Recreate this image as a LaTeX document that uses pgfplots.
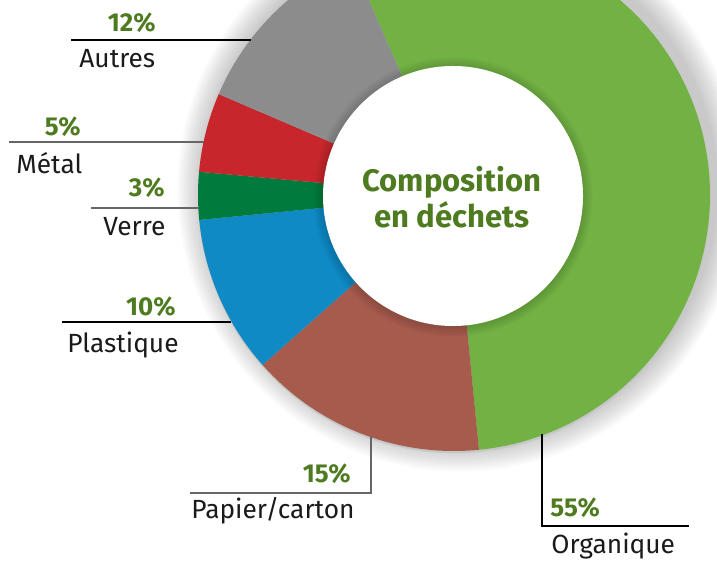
\documentclass[border=0pt]{standalone}
\usepackage{pgfplots}
\usepackage{pgfplotstable}
\pgfplotsset{compat=1.18}
\usepackage{fontspec}
\setmainfont{Fira Sans}
\definecolor{cOrg}{HTML}{72B244}
\definecolor{cPap}{HTML}{A65B4D}
\definecolor{cPla}{HTML}{0F8AC5}
\definecolor{cVer}{HTML}{007A3D}
\definecolor{cMet}{HTML}{C6262C}
\definecolor{cAut}{HTML}{8C8C8C}
\definecolor{txtgreen}{HTML}{4E7B20}
\definecolor{lab}{HTML}{1A1A1A}

% share of each type of waste (%), clockwise from the top
\pgfplotstableread[col sep=comma]{
value,color
55,cOrg
15,cPap
10,cPla
3,cVer
5,cMet
12,cAut
}\wastedata

\newcommand\pct[1]{\fontsize{13}{15}\selectfont\bfseries\color{txtgreen}#1}
\newcommand\nm[1]{\fontsize{13.2}{15}\selectfont\color{lab}#1}

\begin{document}
\begin{tikzpicture}
\begin{axis}[name=ax, hide axis, scale only axis,
  x=0.5bp, y=0.5bp, xmin=0, xmax=717, ymin=0, ymax=561, clip=true]
% soft shadow behind the ring (falling to the upper right)
\pgfplotsforeachungrouped \k in {1,...,12}{%
  \pgfmathsetmacro\rr{128+1.1*\k}%
  \edef\cmd{\noexpand\fill[black, opacity=0.02] (axis cs:460,372) circle[radius=\rr bp];}\cmd
}
\fill[gray!45] (axis cs:454.5,364.5) circle[radius=128.3bp];
% ring sectors
\gdef\cur{113.6}
\pgfplotsforeachungrouped \i in {0,...,5}{%
  \pgfplotstablegetelem{\i}{value}\of\wastedata \let\v\pgfplotsretval
  \pgfplotstablegetelem{\i}{color}\of\wastedata \let\c\pgfplotsretval
  \pgfmathsetmacro\nxt{\cur-3.6*\v}%
  \edef\cmd{\noexpand\fill[\c] (axis cs:454,366) -- ++(\cur:128bp) arc[start angle=\cur, end angle=\nxt, radius=128bp] -- cycle;}\cmd
  \xdef\cur{\nxt}%
}
% inner shadow and hole
\pgfplotsforeachungrouped \k in {1,...,6}{%
  \pgfmathsetmacro\rr{65+0.8*\k}%
  \edef\cmd{\noexpand\fill[black, opacity=0.025] (axis cs:453,364) circle[radius=\rr bp];}\cmd
}
\fill[white] (axis cs:453,365) circle[radius=65bp];
% centre title
\node[font=\fontsize{15.6}{18}\selectfont\bfseries, text=txtgreen, align=center, anchor=base]
  at (axis cs:452,369) {Composition};
\node[font=\fontsize{15.6}{18}\selectfont\bfseries, text=txtgreen, align=center, anchor=base]
  at (axis cs:452,333) {en déchets};
% leader lines
\draw[black, line width=0.7bp] (axis cs:71,521) -- (axis cs:251,521);
\draw[gray!80!black, line width=0.7bp] (axis cs:9,419) -- (axis cs:204,419);
\draw[gray!80!black, line width=0.7bp] (axis cs:91,353) -- (axis cs:199,353);
\draw[black, line width=0.7bp] (axis cs:62,239) -- (axis cs:231,239);
\draw[gray!80!black, line width=0.7bp] (axis cs:190,68) -- (axis cs:371,68) -- (axis cs:371,125);
\draw[black, line width=0.7bp] (axis cs:542,127) -- (axis cs:542,35) -- (axis cs:689,35);
% labels
\node[anchor=base east, inner sep=0] at (axis cs:156,529) {\pct{12\%}};
\node[anchor=base west, inner sep=0] at (axis cs:79,493) {\nm{Autres}};
\node[anchor=base east, inner sep=0] at (axis cs:81,425) {\pct{5\%}};
\node[anchor=base west, inner sep=0] at (axis cs:16,387) {\nm{Métal}};
\node[anchor=base east, inner sep=0] at (axis cs:165,364) {\pct{3\%}};
\node[anchor=base west, inner sep=0] at (axis cs:103,325) {\nm{Verre}};
\node[anchor=base east, inner sep=0] at (axis cs:176,245) {\pct{10\%}};
\node[anchor=base west, inner sep=0] at (axis cs:67,208) {\nm{Plastique}};
\node[anchor=base east, inner sep=0] at (axis cs:351,78) {\pct{15\%}};
\node[anchor=base west, inner sep=0] at (axis cs:191,42) {\nm{Papier/carton}};
\node[anchor=base west, inner sep=0] at (axis cs:550,44) {\pct{55\%}};
\node[anchor=base west, inner sep=0] at (axis cs:551,7) {\nm{Organique}};
\end{axis}
\pgfresetboundingbox
\path[use as bounding box] (ax.south west) rectangle (ax.north east);
\end{tikzpicture}
\end{document}
